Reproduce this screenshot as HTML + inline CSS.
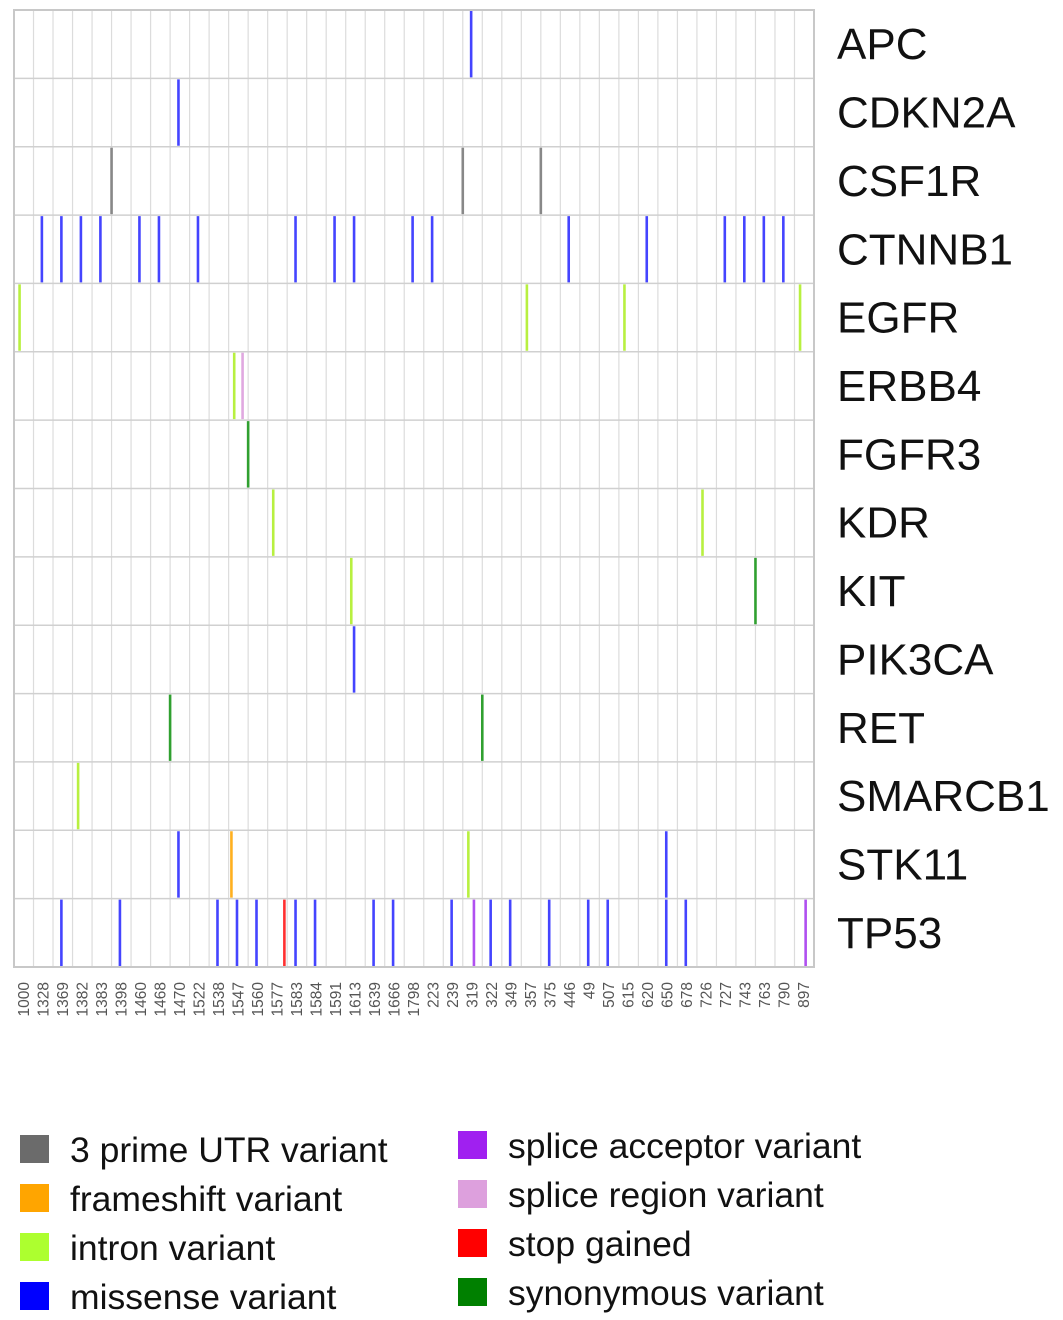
<!DOCTYPE html>
<html><head><meta charset="utf-8"><style>
body{margin:0;background:#fff;}
svg{display:block;font-family:"Liberation Sans",Arial,sans-serif;}
</style></head><body>
<svg id="chart" width="1063" height="1320" xmlns="http://www.w3.org/2000/svg"></svg>
<script>
const categories=["1000","1328","1369","1382","1383","1398","1460","1468","1470","1522","1538","1547","1560","1577","1583","1584","1591","1613","1639","1666","1798","223","239","319","322","349","357","375","446","49","507","615","620","650","678","726","727","743","763","790","897"];
const genes=["APC","CDKN2A","CSF1R","CTNNB1","EGFR","ERBB4","FGFR3","KDR","KIT","PIK3CA","RET","SMARCB1","STK11","TP53"];
const types=["3 prime UTR variant","frameshift variant","intron variant","missense variant","splice acceptor variant","splice region variant","stop gained","synonymous variant"];
const typeColors=["#6b6b6b","#ffa500","#adff2f","#0000ff","#a020f0","#dda0dd","#ff0000","#008000"];
const markColors=["#888888","#ffb020","#b8f040","#4444ff","#b050f0","#e0a8e0","#ff3030","#30a030"];
// marks: [geneIndex, columnIndex, typeIndex]
const markGene=[0,1,2,2,2,3,3,3,3,3,3,3,3,3,3,3,3,3,3,3,3,3,3,4,4,4,4,5,5,6,7,7,8,8,9,10,10,11,12,12,12,12,13,13,13,13,13,13,13,13,13,13,13,13,13,13,13,13,13,13,13,13];
const markCol=[23,8,5,23,27,1,2,3,4,6,7,9,14,16,17,20,21,28,32,36,37,38,39,0,26,31,40,11,11,11,13,35,17,37,17,7,23,3,8,11,23,33,2,5,10,11,12,13,14,15,18,19,22,23,24,25,27,29,30,33,34,40];
const markType=[3,3,0,0,0,3,3,3,3,3,3,3,3,3,3,3,3,3,3,3,3,3,3,2,2,2,2,2,5,7,2,2,2,7,3,7,7,2,3,1,2,3,3,3,3,3,3,6,3,3,3,3,3,4,3,3,3,3,3,3,3,4];

const svg=document.getElementById('chart');
const NS="http://www.w3.org/2000/svg";
const L=14,R=814,T=10,B=967;
const colW=(R-L)/categories.length, rowH=(B-T)/genes.length;
const xCol=(c,t)=>L+colW*(c+t/7);
const yRow=g=>T+rowH*g;
function mk(tag,attrs,parent){const e=document.createElementNS(NS,tag);for(const k in attrs)e.setAttribute(k,attrs[k]);(parent||svg).appendChild(e);return e;}

const grid=mk('g',{});


for(let i=1;i<categories.length;i++){mk('line',{x1:L+colW*i,x2:L+colW*i,y1:T,y2:B,stroke:'#dcdcdc','stroke-width':1.2},grid);}
for(let g=1;g<genes.length;g++){mk('line',{x1:L,x2:R,y1:yRow(g),y2:yRow(g),stroke:'#d0d0d0','stroke-width':1.5},grid);}
const border=mk('rect',{x:L,y:T,width:R-L,height:B-T,fill:'none',stroke:'#c8c8c8','stroke-width':2});



for(let i=0;i<markGene.length;i++){
  const x=xCol(markCol[i],markType[i]);
  const ln=mk('line',{x1:x,x2:x,y1:yRow(markGene[i])+1,y2:yRow(markGene[i]+1)-1,stroke:markColors[markType[i]],'stroke-width':2.6});
  
  
}
genes.forEach((g,i)=>{
  const t=mk('text',{x:837,y:yRow(i)+rowH/2+15,'font-size':44,fill:'#111'});
  t.textContent=g;
  
  
});
categories.forEach((c,i)=>{
  const x=L+colW*(i+0.5)+5;
  const t=mk('text',{x:x,y:982,'font-size':15.5,fill:'#555','text-anchor':'end',transform:`rotate(-90 ${x} 982)`});
  t.textContent=c;
  
  
});
const legY=[1135,1184,1233,1282];
types.forEach((tp,i)=>{
  const col=i<4?0:1, r=i%4;
  const sx=col?458:20, y=legY[r]-(col?4:0);
  const g=mk('g',{});
  
  
  mk('rect',{x:sx,y:y,width:29,height:28,fill:typeColors[i]},g);
  const t=mk('text',{x:sx+50,y:y+27,'font-size':35.5,fill:'#111'},g);
  t.textContent=tp;
});
</script>
</body></html>
